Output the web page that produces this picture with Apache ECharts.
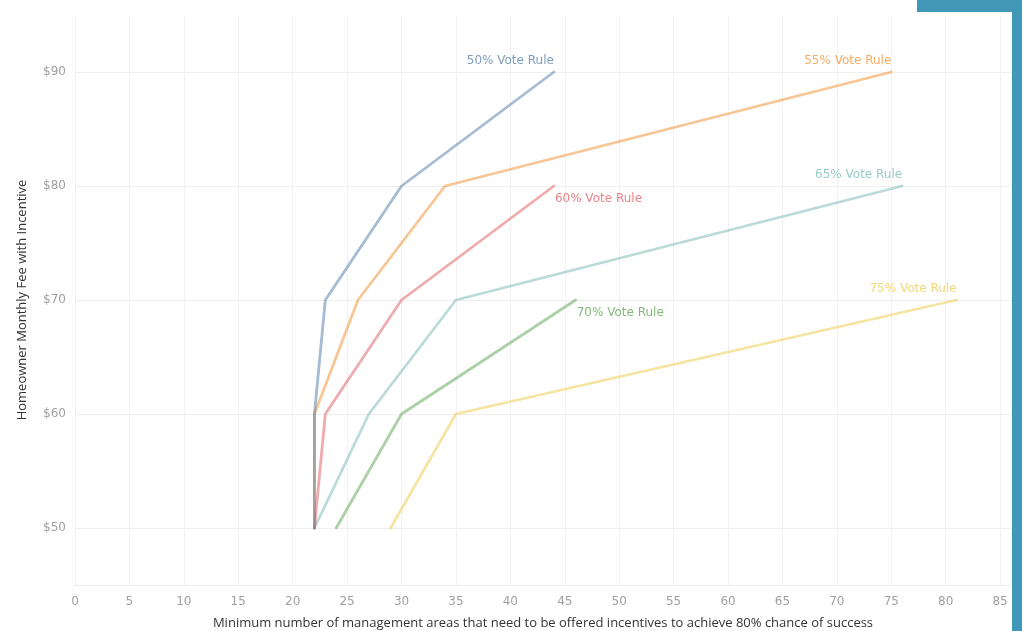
<!DOCTYPE html>
<html>
<head>
<meta charset="utf-8">
<script src="https://cdn.jsdelivr.net/npm/echarts@6/dist/echarts.min.js"></script>
<style>
  html, body { margin: 0; padding: 0; background: #ffffff; }
  #chart { width: 1022px; height: 631px; }
</style>
</head>
<body>
<div id="chart"></div>
<script>
// Management areas needed (x) for each monthly fee level (y), per vote rule
const ruleNames = ['50% Vote Rule', '55% Vote Rule', '60% Vote Rule', '65% Vote Rule', '70% Vote Rule', '75% Vote Rule'];
const rule50Areas = [22, 22, 23, 30, 44];
const rule50Fees  = [50, 60, 70, 80, 90];
const rule55Areas = [22, 22, 26, 34, 75];
const rule55Fees  = [50, 60, 70, 80, 90];
const rule60Areas = [22, 23, 30, 44];
const rule60Fees  = [50, 60, 70, 80];
const rule65Areas = [22, 27, 35, 76];
const rule65Fees  = [50, 60, 70, 80];
const rule70Areas = [24, 30, 46];
const rule70Fees  = [50, 60, 70];
const rule75Areas = [29, 35, 81];
const rule75Fees  = [50, 60, 70];

const ruleColors = ['#4e79a7', '#f28e2b', '#e15759', '#76b7b2', '#59a14f', '#edc948'];
// where each end label sits relative to the last point
const labelSide = ['above', 'above', 'below', 'above', 'below', 'above'];

const areasList = [rule50Areas, rule55Areas, rule60Areas, rule65Areas, rule70Areas, rule75Areas];
const feesList  = [rule50Fees, rule55Fees, rule60Fees, rule65Fees, rule70Fees, rule75Fees];

function hexToRgba(hex, a) {
  const n = parseInt(hex.slice(1), 16);
  return 'rgba(' + (n >> 16) + ',' + ((n >> 8) & 255) + ',' + (n & 255) + ',' + a + ')';
}

const series = ruleNames.map(function (name, i) {
  const xs = areasList[i], ys = feesList[i];
  const data = xs.map(function (x, k) {
    const item = { value: [x, ys[k]] };
    if (k === xs.length - 1) {
      const above = labelSide[i] === 'above';
      item.label = {
        show: true,
        formatter: name,
        position: above ? 'top' : 'bottom',
        align: above ? 'right' : 'left',
        verticalAlign: above ? 'bottom' : 'top',
        distance: 5,
        offset: above ? [0, 0] : [1, 1],
        color: hexToRgba(ruleColors[i], 0.74),
        fontFamily: 'DejaVu Sans',
        fontSize: 12
      };
    }
    return item;
  });
  return {
    name: name,
    type: 'line',
    data: data,
    symbol: 'circle',
    symbolSize: 1,
    showSymbol: true,
    silent: true,
    lineStyle: { color: ruleColors[i], width: 2.8, opacity: 0.5, cap: 'round', join: 'round' },
    itemStyle: { color: 'rgba(0,0,0,0)' },
    // the lower vote rules are drawn over the higher ones
    z: 10 - i
  };
});

const chart = echarts.init(document.getElementById('chart'), null, { renderer: 'canvas' });
chart.setOption({
  animation: false,
  backgroundColor: '#ffffff',
  grid: { left: 75, right: 11, top: 15, bottom: 46, containLabel: false, outerBoundsMode: 'none' },
  xAxis: {
    type: 'value',
    min: 0,
    max: 86,
    interval: 5,
    name: 'Minimum number of management areas that need to be offered incentives to achieve 80% chance of success',
    nameLocation: 'middle',
    nameGap: 32,
    nameTextStyle: { color: '#333333', fontFamily: 'Open Sans', fontSize: 13 },
    axisLine: { show: true, lineStyle: { color: '#ececec', width: 1 } },
    axisTick: { show: false },
    axisLabel: {
      color: '#a0a0a0', fontFamily: 'DejaVu Sans', fontSize: 12, margin: 11,
      formatter: function (v) { return v % 5 === 0 ? String(v) : ''; }
    },
    splitLine: { show: true, lineStyle: { color: '#f2f2f2', width: 1 } }
  },
  yAxis: {
    type: 'value',
    min: 45,
    max: 95,
    interval: 5,
    name: 'Homeowner Monthly Fee with Incentive',
    nameLocation: 'middle',
    nameGap: 46,
    nameRotate: 90,
    nameTextStyle: { color: '#333333', fontFamily: 'Open Sans', fontSize: 13 },
    axisLine: { show: false },
    axisTick: { show: false },
    axisLabel: {
      color: '#a0a0a0', fontFamily: 'DejaVu Sans', fontSize: 12, margin: 9,
      formatter: function (v) { return v % 10 === 0 ? '$' + v : ''; }
    },
    // gridlines only at the $10 steps
    splitLine: { show: true, lineStyle: { color: ['rgba(0,0,0,0)', '#efefef'], width: 1 } }
  },
  series: series,
  graphic: [
    { type: 'rect', shape: { x: 917, y: 0, width: 105, height: 12 }, style: { fill: '#4197b6' }, z: 100 },
    { type: 'rect', shape: { x: 1012, y: 0, width: 10, height: 631 }, style: { fill: '#4197b6' }, z: 100 }
  ]
});
</script>
</body>
</html>
